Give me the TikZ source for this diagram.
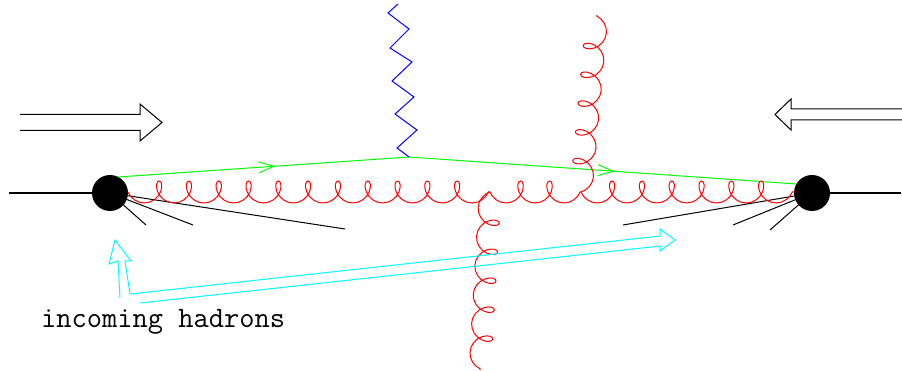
\documentclass[tikz,border=0pt]{standalone}
\usetikzlibrary{decorations.pathmorphing,decorations.markings,arrows.meta}
\definecolor{xcyan}{RGB}{0,255,255}
\definecolor{xgreen}{RGB}{0,255,0}
\definecolor{xred}{RGB}{255,0,0}
\definecolor{xblue}{RGB}{0,0,255}
\begin{document}
\begin{tikzpicture}[x=1pt,y=-1pt,
  dotnode/.style={circle,fill=black,minimum size=36pt,inner sep=0pt,outer sep=0pt},
  gluon/.style={draw=xred,line width=1pt,decorate,
    decoration={coil,mirror,amplitude=11pt,aspect=0.8,segment length=#1}},
  quark/.style={draw=xgreen,line width=1pt,postaction={decorate},
    decoration={markings,mark=at position #1 with {\arrow{Straight Barb[length=15pt,width=11pt]}}}},
  photon/.style={draw=xblue,line width=1pt},
  jet/.style={draw=black,line width=1pt},
  beam/.style={draw=black,line width=2.4pt},
  hollow/.style={draw=black,line width=1pt,line join=miter},
  cyanarrow/.style={draw=xcyan,line width=1pt,line join=miter},
  lbl/.style={font=\fontsize{29.6}{31}\selectfont\ttfamily,anchor=base west,inner sep=0pt}]
\useasboundingbox (0,0) rectangle (902,371);

% hadrons
\node[dotnode] (ld) at (110,193) {};
\node[dotnode] (rd) at (812,193) {};
\coordinate (lx) at (9,193);
\coordinate (rx) at (901,193);
\draw[beam] (lx) -- (ld);
\draw[beam] (rd) -- (rx);

% remnant jets
\coordinate (l1) at (345,229);
\coordinate (l2) at (193,225);
\coordinate (l3) at (146,225);
\coordinate (r1) at (623,225);
\coordinate (r2) at (733,225);
\coordinate (r3) at (770,230);
\draw[jet] (ld) -- (l1);
\draw[jet] (ld) -- (l2);
\draw[jet] (ld) -- (l3);
\draw[jet] (rd) -- (r1);
\draw[jet] (rd) -- (r2);
\draw[jet] (rd) -- (r3);

% quark lines
\coordinate (v) at (409,157);
\draw[quark=0.54] (ld.63) -- (v);
\draw[quark=0.53] (v) -- (rd.150);

% photon
\draw[photon] (v) -- (397,148) -- (417,130) -- (395,114) -- (414,97) -- (392,81)
  -- (412,62) -- (390,48) -- (409,29) -- (388,13) -- (398,4);

% gluons
\coordinate (g0) at (128,192);
\coordinate (j1) at (490,192);
\coordinate (j2) at (581,192);
\coordinate (g3) at (795,192);
\coordinate (gb) at (480,370);
\coordinate (gt) at (597,15);
\draw[gluon=29.8pt] (g0) -- (j1);
\draw[gluon=29pt] (j1) -- (j2);
\draw[gluon=29.8pt] (j2) -- (g3);
\draw[gluon=29pt] (j1) -- (gb);
\draw[gluon=28.9pt] (j2) -- (gt);

% beam direction arrows
\draw[hollow] (20,114.5) -- (140,114.5) -- (140,104) -- (162,122.5) -- (140,141)
  -- (140,130.5) -- (20,130.5);
\draw[hollow] (902,109) -- (791,109) -- (791,99) -- (775,114.5) -- (791,130)
  -- (791,120) -- (902,120);

% cyan pointer arrows
\draw[cyanarrow] (120,298) -- (118,261) -- (109,264) -- (115,240) -- (131,261)
  -- (125,261) -- (130,294) -- (660,236) -- (660,229) -- (675,240) -- (660,251)
  -- (660,246) -- (140,303);

\node[lbl] (lab) at (41,327) {incoming hadrons};
\end{tikzpicture}
\end{document}
